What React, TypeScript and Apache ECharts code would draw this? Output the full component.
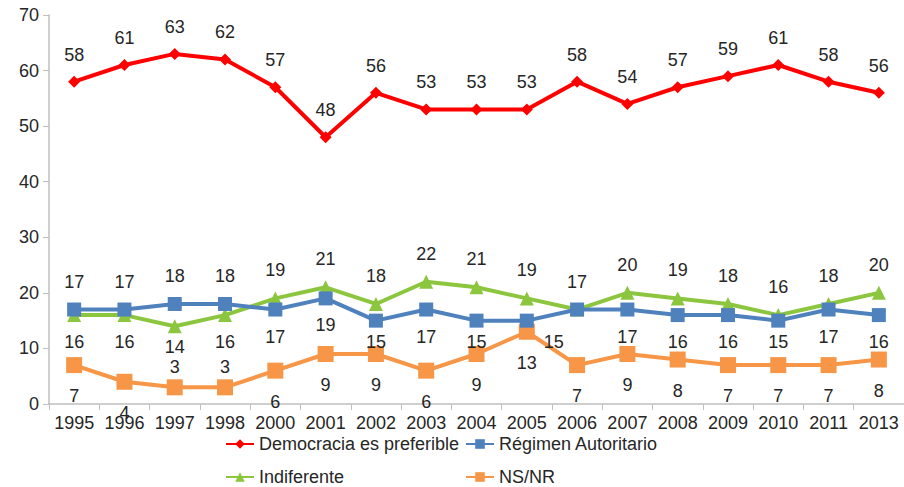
import React, { useEffect, useRef } from "react";
import * as echarts from "echarts";

const years = ["1995","1996","1997","1998","2000","2001","2002","2003","2004","2005","2006","2007","2008","2009","2010","2011","2013"];
const democracia = [58,61,63,62,57,48,56,53,53,53,58,54,57,59,61,58,56];
const autoritario = [17,17,18,18,17,19,15,17,15,15,17,17,16,16,15,17,16];
const indiferente = [16,16,14,16,19,21,18,22,21,19,17,20,19,18,16,18,20];
const nsnr = [7,4,3,3,6,9,9,6,9,13,7,9,8,7,7,7,8];
// label placement per point: "t" top, "b" bottom, "c" close bottom, "r" right-offset, "n" none
const autoritarioPos = ["t","t","t","t","b","b","c","b","c","r","n","b","b","b","c","b","b"];
const indiferentePos = ["b","b","c","b","t","t","t","t","t","t","t","t","t","t","t","t","t"];
const nsnrPos = ["b","b","t","t","b","b","b","b","b","b","b","b","b","b","b","b","b"];

const names = ["Democracia es preferible", "Régimen Autoritario", "Indiferente", "NS/NR"];
const colors = ["#FF0000", "#4F81BD", "#8CC63F", "#F79646"];

const FONT = "Arial, 'Liberation Sans', sans-serif";
const TXT = "#262626";

function withPos(vals: number[], pos: string[], below: number, above: number) {
  return vals.map((v, i) => {
    const p = pos[i];
    if (p === "n") return { value: v, label: { show: false } };
    if (p === "r") return { value: v, label: { position: "bottom", distance: 5, offset: [27, 0] } };
    if (p === "c") return { value: v, label: { position: "bottom", distance: 5 } };
    if (p === "t") return { value: v, label: { position: "top", distance: above } };
    return { value: v, label: { position: "bottom", distance: below } };
  });
}

export default function App() {
  const ref = useRef<HTMLDivElement>(null);
  useEffect(() => {
    document.body.style.margin = "0";
    const chart = echarts.init(ref.current!, undefined, { renderer: "svg" });
    const label = { show: true, fontSize: 18, color: TXT, fontFamily: FONT };
    const mk = (i: number, data: any, symbol: string, size: number) => ({
      name: names[i],
      type: "line",
      data,
      symbol,
      symbolSize: size,
      color: colors[i],
      lineStyle: { width: 4, color: colors[i] },
      itemStyle: { color: colors[i] },
      label: { ...label },
      z: 10 - i,
    });
    const legendBase = {
      orient: "horizontal",
      itemWidth: 28,
      itemHeight: 12,
      padding: 0,
      textStyle: { fontSize: 18, color: TXT, fontFamily: FONT },
    };
    chart.setOption({
      animation: false,
      backgroundColor: "#fff",
      grid: { left: 49, right: 0, top: 15, bottom: 83, containLabel: false },
      legend: [
        { ...legendBase, data: [names[0]], left: 225, top: 435 },
        { ...legendBase, data: [names[1]], left: 465, top: 435 },
        { ...legendBase, data: [names[2]], left: 225, top: 468 },
        { ...legendBase, data: [names[3]], left: 465, top: 468 },
      ],
      xAxis: {
        type: "category",
        data: years,
        boundaryGap: true,
        axisLine: { lineStyle: { color: "#BFBFBF", width: 1.5 } },
        axisTick: { show: true, interval: 0, length: 6, lineStyle: { color: "#BFBFBF" } },
        axisLabel: { interval: 0, fontSize: 18, color: TXT, fontFamily: FONT, margin: 10 },
      },
      yAxis: {
        type: "value",
        min: 0,
        max: 70,
        interval: 10,
        splitLine: { show: false },
        axisLine: { show: true, lineStyle: { color: "#BFBFBF", width: 1.5 } },
        axisTick: { show: true, length: 6, lineStyle: { color: "#BFBFBF" } },
        axisLabel: { fontSize: 18, color: TXT, fontFamily: FONT, margin: 10 },
      },
      series: [
        mk(0, democracia.map((v) => ({ value: v, label: { position: "top", distance: 12 } })), "diamond", 12),
        mk(1, withPos(autoritario, autoritarioPos, 11, 12), "rect", 14),
        mk(2, withPos(indiferente, indiferentePos, 11, 12), "triangle", 14),
        mk(3, withPos(nsnr, nsnrPos, 14, 3), "rect", 16),
      ],
    });
    return () => chart.dispose();
  }, []);
  return <div ref={ref} style={{ width: 904, height: 487 }} />;
}
